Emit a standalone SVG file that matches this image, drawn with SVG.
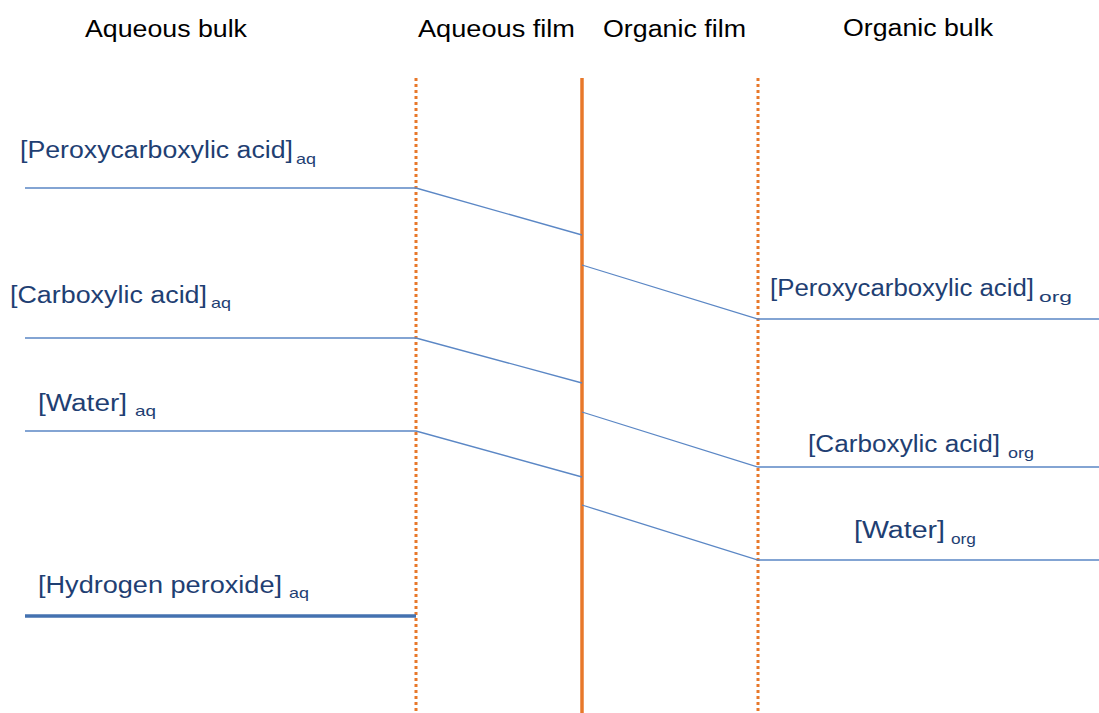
<svg xmlns="http://www.w3.org/2000/svg" width="1099" height="713" viewBox="0 0 1099 713">
<style>
.hdr{font-family:"Liberation Sans",Arial,sans-serif;font-size:23px;fill:#000}
.lbl{font-family:"Liberation Sans",Arial,sans-serif;font-size:23.5px;fill:#1F3F73}
.sub{font-family:"Liberation Sans",Arial,sans-serif;font-size:15px;fill:#1F3F73}
.dot{stroke:#E8782A;stroke-width:3;stroke-dasharray:3 3;fill:none}
.wall{stroke:#E8782A;stroke-width:3.5;fill:none}
.c{stroke:#5B87C5;stroke-width:1.3;fill:none}
.thick{stroke:#4472B0;stroke-width:3.5;fill:none}
</style>
<rect width="1099" height="713" fill="#fff"/>
<g id="headers">
<text class="hdr" x="85" y="37" textLength="162" lengthAdjust="spacingAndGlyphs">Aqueous bulk</text>
<text class="hdr" x="418" y="37" textLength="157" lengthAdjust="spacingAndGlyphs">Aqueous film</text>
<text class="hdr" x="603" y="37" textLength="143" lengthAdjust="spacingAndGlyphs">Organic film</text>
<text class="hdr" x="843" y="36" textLength="150" lengthAdjust="spacingAndGlyphs">Organic bulk</text>
</g>
<g id="boundaries">
<line class="dot" x1="416" y1="78" x2="416" y2="713"/>
<line class="wall" x1="582" y1="78" x2="582" y2="713"/>
<line class="dot" x1="758" y1="78" x2="758" y2="713"/>
</g>
<g id="connectors">
<polyline class="c" points="25,188 416,188 582,235"/>
<polyline class="c" points="582,265 758,319 1099,319"/>
<polyline class="c" points="25,338 416,338 582,383"/>
<polyline class="c" points="582,412 758,467 1099,467"/>
<polyline class="c" points="25,431 416,431 582,477"/>
<polyline class="c" points="582,505 758,560 1099,560"/>
<line class="thick" x1="25" y1="616" x2="416" y2="616"/>
</g>
<g id="peroxy-aq">
<text class="lbl" x="20" y="158" textLength="273" lengthAdjust="spacingAndGlyphs">[Peroxycarboxylic acid]</text>
<text class="sub" x="296" y="164" textLength="20" lengthAdjust="spacingAndGlyphs">aq</text>
</g>
<g id="carboxylic-aq">
<text class="lbl" x="10" y="303" textLength="197" lengthAdjust="spacingAndGlyphs">[Carboxylic acid]</text>
<text class="sub" x="211" y="308" textLength="20" lengthAdjust="spacingAndGlyphs">aq</text>
</g>
<g id="water-aq">
<text class="lbl" x="38" y="411" textLength="89" lengthAdjust="spacingAndGlyphs">[Water]</text>
<text class="sub" x="135" y="416" textLength="21" lengthAdjust="spacingAndGlyphs">aq</text>
</g>
<g id="h2o2-aq">
<text class="lbl" x="38" y="593" textLength="244" lengthAdjust="spacingAndGlyphs">[Hydrogen peroxide]</text>
<text class="sub" x="289" y="598" textLength="20" lengthAdjust="spacingAndGlyphs">aq</text>
</g>
<g id="peroxy-org">
<text class="lbl" x="770" y="296" textLength="264" lengthAdjust="spacingAndGlyphs">[Peroxycarboxylic acid]</text>
<text class="sub" x="1039" y="302" textLength="33" lengthAdjust="spacingAndGlyphs">org</text>
</g>
<g id="carboxylic-org">
<text class="lbl" x="808" y="452" textLength="192" lengthAdjust="spacingAndGlyphs">[Carboxylic acid]</text>
<text class="sub" x="1008" y="458" textLength="26" lengthAdjust="spacingAndGlyphs">org</text>
</g>
<g id="water-org">
<text class="lbl" x="854" y="538" textLength="91" lengthAdjust="spacingAndGlyphs">[Water]</text>
<text class="sub" x="951" y="544" textLength="25" lengthAdjust="spacingAndGlyphs">org</text>
</g>
</svg>
